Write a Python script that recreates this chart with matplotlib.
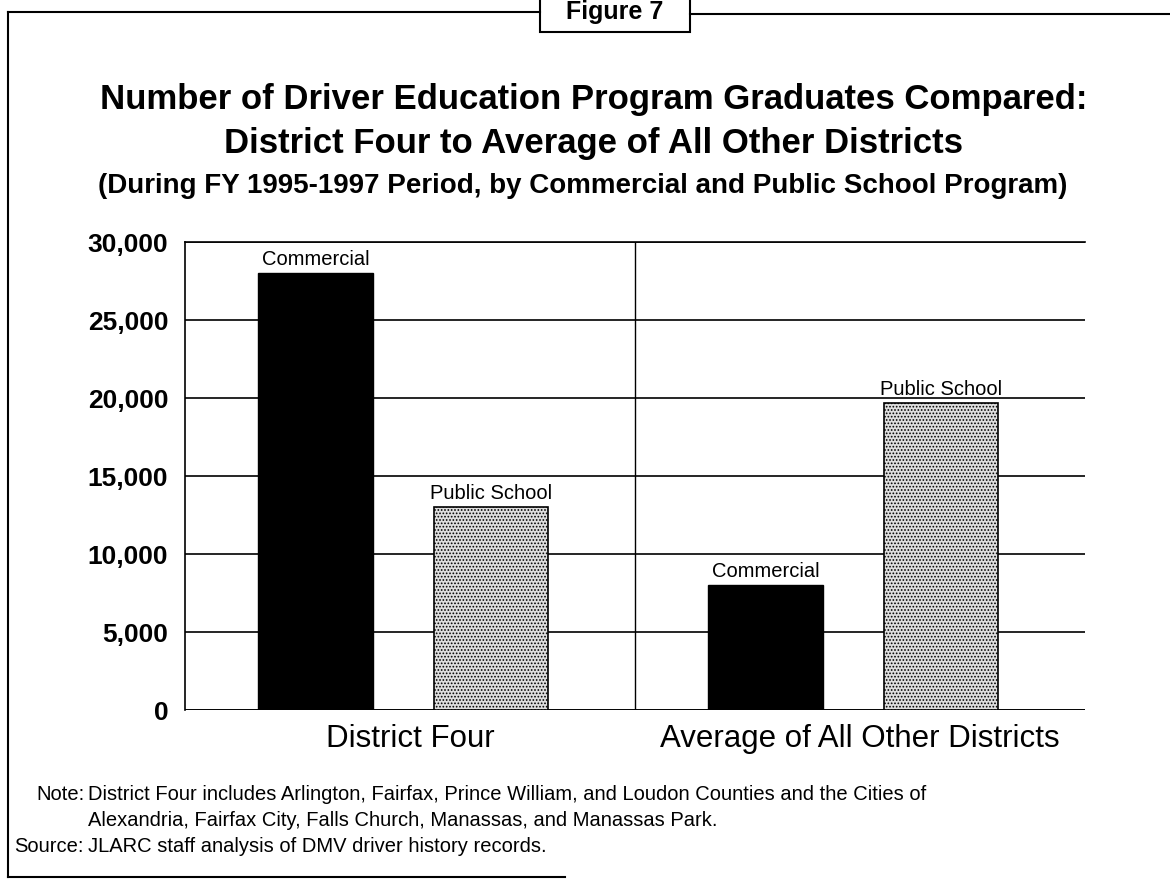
import matplotlib.pyplot as plt
import numpy as np
from matplotlib.patches import Rectangle
from matplotlib.lines import Line2D

# data
groups = ['District Four', 'Average of All Other Districts']
series = ['Commercial', 'Public School']
commercial = [28000, 8000]
public_school = [13000, 19700]
yticks = [0, 5000, 10000, 15000, 20000, 25000, 30000]

plt.rcParams['font.family'] = ['Liberation Sans', 'DejaVu Sans']
plt.rcParams['hatch.color'] = '#555555'
plt.rcParams['hatch.linewidth'] = 0.8

fig = plt.figure(figsize=(11.7, 8.82), dpi=100)
ax = fig.add_axes([185 / 1170, 1 - 710 / 882, 900 / 1170, (710 - 242) / 882])

x = np.arange(len(groups))
w = 0.255
b1 = ax.bar(x - 0.21, commercial, w, color='black', edgecolor='black', zorder=3)
b2 = ax.bar(x + 0.18, public_school, w, color='#dedede', edgecolor='black',
            hatch='.....', linewidth=1.2, zorder=3)
for bars, name in [(b1, series[0]), (b2, series[1])]:
    for r in bars:
        ax.text(r.get_x() + r.get_width() / 2, r.get_height() + 250, name,
                ha='center', va='bottom', fontsize=14.5, zorder=4)

ax.set_xlim(-0.5, 1.5)
ax.set_ylim(0, 30000)
ax.set_yticks(yticks)
ax.set_yticklabels([f'{v:,}' for v in yticks], fontsize=19, fontweight='bold')
ax.tick_params(axis='y', length=0, pad=12)
ax.set_xticks(x)
ax.set_xticklabels(groups, fontsize=22.5)
ax.tick_params(axis='x', length=0, pad=10)
ax.grid(axis='y', color='black', linewidth=1.2, zorder=1)
ax.axvline(0.5, color='black', linewidth=1, zorder=1)
for s in ['right', 'bottom']:
    ax.spines[s].set_visible(False)
ax.spines['left'].set_linewidth(1.2)
ax.spines['top'].set_linewidth(1.2)
ax.axhline(0, color='black', linewidth=1.2, zorder=2)

# titles
fig.text(594 / 1170, 1 - 100 / 882, 'Number of Driver Education Program Graduates Compared:',
         ha='center', va='center', fontsize=25, fontweight='bold')
fig.text(594 / 1170, 1 - 143 / 882, 'District Four to Average of All Other Districts',
         ha='center', va='center', fontsize=25, fontweight='bold')
fig.text(583 / 1170, 1 - 186 / 882,
         '(During FY 1995-1997 Period, by Commercial and Public School Program)',
         ha='center', va='center', fontsize=20, fontweight='bold')

# notes
fs = 14.5
fig.text(36 / 1170, 1 - 795 / 882, 'Note:', fontsize=fs, va='center')
fig.text(88 / 1170, 1 - 795 / 882,
         'District Four includes Arlington, Fairfax, Prince William, and Loudon Counties and the Cities of',
         fontsize=fs, va='center')
fig.text(88 / 1170, 1 - 820 / 882,
         'Alexandria, Fairfax City, Falls Church, Manassas, and Manassas Park.',
         fontsize=fs, va='center')
fig.text(14 / 1170, 1 - 847 / 882, 'Source:', fontsize=fs, va='center')
fig.text(88 / 1170, 1 - 847 / 882, 'JLARC staff analysis of DMV driver history records.',
         fontsize=fs, va='center')

# outer frame
def px(xp, yp):
    return xp / 1170, 1 - yp / 882

lines = [((8, 12), (540, 12)), ((690, 14), (1170, 14)),
         ((8, 12), (8, 877)), ((8, 877), (565, 877))]
for (xa, ya), (xb, yb) in lines:
    (x0, y0), (x1, y1) = px(xa, ya), px(xb, yb)
    fig.add_artist(Line2D([x0, x1], [y0, y1], color='black', linewidth=1.5))
bx, by = px(540, 32)
fig.add_artist(Rectangle((bx, by), 150 / 1170, 36 / 882, facecolor='white',
                         edgecolor='black', linewidth=1.5))
fig.text(615 / 1170, 1 - 12 / 882, 'Figure 7', ha='center', va='center',
         fontsize=18, fontweight='bold')

fig.savefig('out.png', dpi=100)
